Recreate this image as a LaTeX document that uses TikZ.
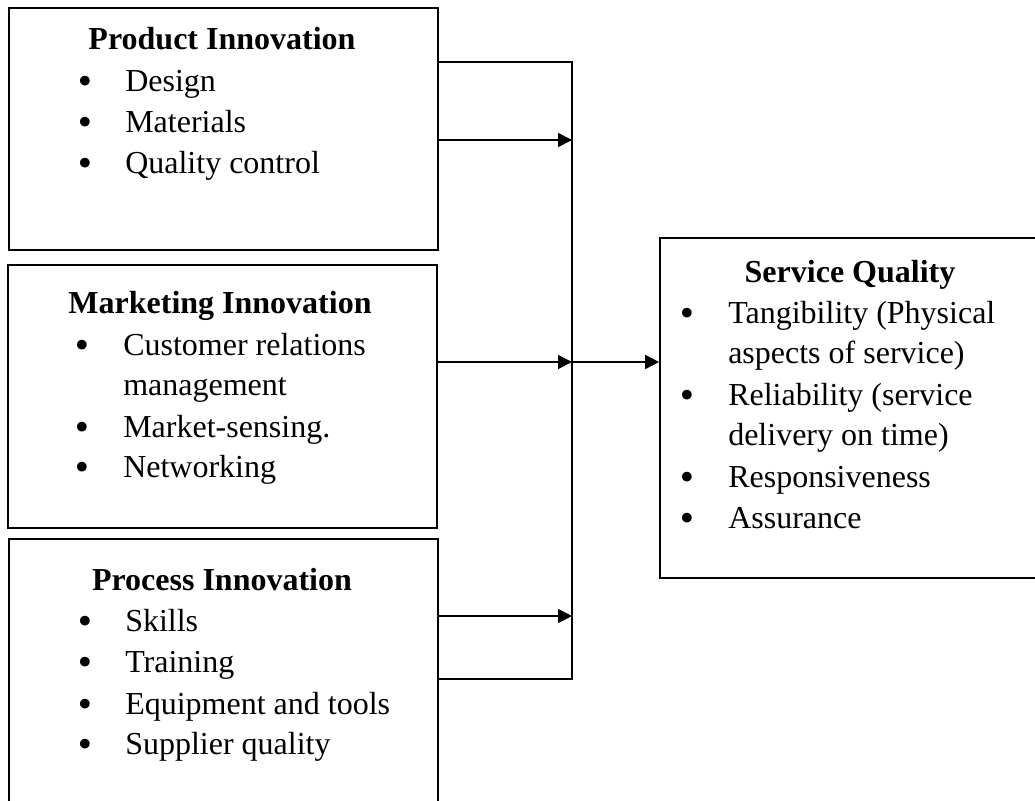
\documentclass[tikz,border=0pt]{standalone}
\usepackage{fontspec}
\setmainfont{Liberation Serif}
\newfontfamily\bulletfont{DejaVu Sans}
\usetikzlibrary{arrows.meta,fit}

\begin{document}
\begin{tikzpicture}[x=0.75pt,y=-0.75pt,
  box/.style={draw,line width=1.3pt,inner sep=0pt},
  conn/.style={line width=1.3pt},
  arr/.style={conn,-{Triangle[length=10.5pt,width=10.5pt]}},
  head/.style={anchor=base,inner sep=0pt,font=\fontsize{24}{30}\selectfont\bfseries},
  item/.style={anchor=base west,inner sep=0pt,font=\fontsize{24}{30}\selectfont},
  dot/.style={anchor=base,inner sep=0pt,yshift=-2pt,font=\bulletfont\fontsize{25}{30}\selectfont}]
\useasboundingbox[fill=white] (0,0) rectangle (1035,800);
\clip (0,0) rectangle (1035,800);

% frames
\node[box,fit={(9,8) (438,250)}] (prod) {};
\node[box,fit={(8,265) (437,528)}] (mark) {};
\node[box,fit={(9,539) (438,840)}] (proc) {};
\node[box,fit={(660,238) (1042,578)}] (serv) {};

% Product Innovation
\node[head] (prodT) at (222,49) {Product Innovation};
\node[dot] (prodB1) at (85,91) {•};
\node[item] (prodI1) at (125,91) {Design};
\node[dot] (prodB2) at (85,132) {•};
\node[item] (prodI2) at (125,132) {Materials};
\node[dot] (prodB3) at (85,173) {•};
\node[item] (prodI3) at (125,173) {Quality control};

% Marketing Innovation
\node[head] (markT) at (220,313) {Marketing Innovation};
\node[dot] (markB1) at (82,355) {•};
\node[item] (markI1) at (123,355) {Customer relations};
\node[item] (markI1b) at (123,395) {management};
\node[dot] (markB2) at (82,437) {•};
\node[item] (markI2) at (123,437) {Market-sensing.};
\node[dot] (markB3) at (82,477) {•};
\node[item] (markI3) at (123,477) {Networking};

% Process Innovation
\node[head] (procT) at (222,590) {Process Innovation};
\node[dot] (procB1) at (85,631) {•};
\node[item] (procI1) at (125,631) {Skills};
\node[dot] (procB2) at (85,672) {•};
\node[item] (procI2) at (125,672) {Training};
\node[dot] (procB3) at (85,714) {•};
\node[item] (procI3) at (125,714) {Equipment and tools};
\node[dot] (procB4) at (85,754) {•};
\node[item] (procI4) at (125,754) {Supplier quality};

% Service Quality
\node[head] (servT) at (850,282) {Service Quality};
\node[dot] (servB1) at (687,323) {•};
\node[item] (servI1) at (728,323) {Tangibility (Physical};
\node[item] (servI1b) at (728,363) {aspects of service)};
\node[dot] (servB2) at (687,405) {•};
\node[item] (servI2) at (728,405) {Reliability (service};
\node[item] (servI2b) at (728,445) {delivery on time)};
\node[dot] (servB3) at (687,487) {•};
\node[item] (servI3) at (728,487) {Responsiveness};
\node[dot] (servB4) at (687,528) {•};
\node[item] (servI4) at (728,528) {Assurance};

% collecting bus
\coordinate (busTop) at (572,62);
\coordinate (busBot) at (572,679);
\coordinate (busMid) at (572,362);
\draw[conn] (prod.east |- busTop) -- (busTop) -- (busBot) -- (proc.east |- busBot);
\draw[arr] (prod.east |- 0,140) -- (busTop |- 0,140);
\draw[arr] (mark.east |- busMid) -- (busMid);
\draw[arr] (proc.east |- 0,616) -- (busTop |- 0,616);
\draw[arr] (busMid) -- (serv.west |- busMid);
\end{tikzpicture}
\end{document}
